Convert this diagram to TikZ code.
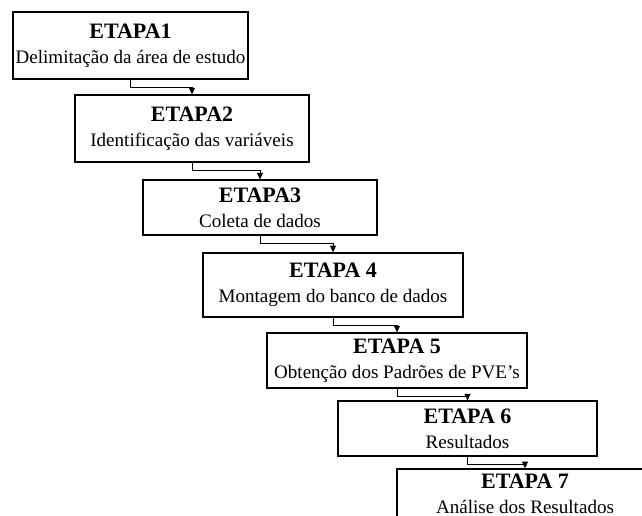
\documentclass[tikz,border=0pt]{standalone}
\usepackage{fontspec}
\setmainfont{Liberation Serif}
\usetikzlibrary{arrows.meta}

\newcommand{\etapatxt}[2]{{\fontsize{16.5}{18.5}\selectfont\bfseries #1}\\{\fontsize{14.3}{18.5}\selectfont #2}}

\begin{document}
\begin{tikzpicture}[x=0.75pt, y=-0.75pt, >={Triangle[width=4.5pt,length=5pt]},
  etapa/.style={draw, line width=1.1pt, align=center, inner sep=0pt,
    font=\fontsize{14.3}{18.5}\selectfont},
  seta/.style={->, line width=0.7pt}]
  % page
  \clip (0,0) rectangle (642,515);

  % Etapas
  \node[etapa, minimum width=176pt, minimum height=50pt] (e1) at (130.5,45.5)
    {\etapatxt{ETAPA1}{Delimitação da área de estudo}};
  \node[etapa, minimum width=175.5pt, minimum height=50pt] (e2) at (192,128.5)
    {\etapatxt{ETAPA2}{Identificação das variáveis}};
  \node[etapa, minimum width=175.5pt, minimum height=41pt] (e3) at (260,207.5)
    {\etapatxt{ETAPA3}{Coleta de dados}};
  \node[etapa, minimum width=195pt, minimum height=48pt] (e4) at (333,285)
    {\etapatxt{ETAPA 4}{Montagem do banco de dados}};
  \node[etapa, minimum width=195pt, minimum height=41pt] (e5) at (397,360.5)
    {\etapatxt{ETAPA 5}{Obtenção dos Padrões de PVE’s}};
  \node[etapa, minimum width=194pt, minimum height=41pt] (e6) at (467.5,428.5)
    {\etapatxt{ETAPA 6}{Resultados}};
  \node[etapa, minimum width=192pt, minimum height=37.5pt] (e7) at (525,494)
    {\etapatxt{ETAPA 7}{Análise dos Resultados}};

  % Setas
  \foreach \a/\b in {e1/e2, e2/e3, e3/e4, e4/e5, e5/e6, e6/e7} {
    \draw[seta] (\a.south) -- ++(0,8) -| (\b.north);
  }
\end{tikzpicture}
\end{document}
